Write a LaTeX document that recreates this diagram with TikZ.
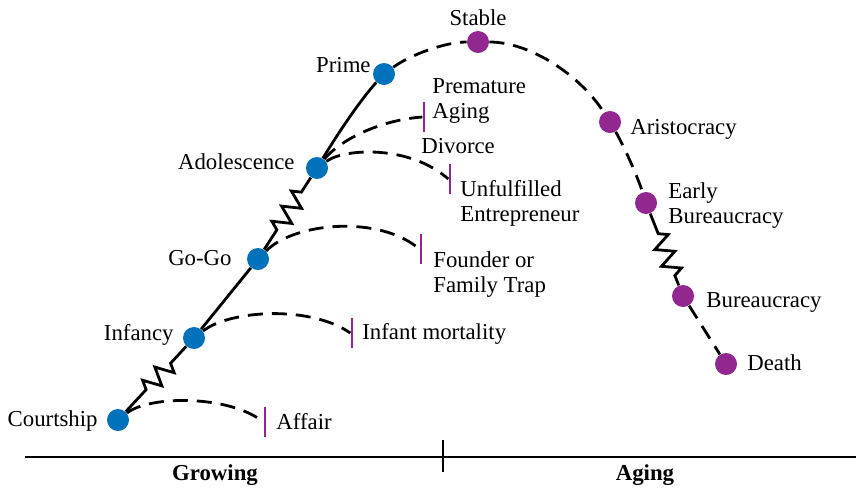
\documentclass[tikz,border=0pt]{standalone}
\usepackage{fontspec}
\setmainfont{Liberation Serif}
\usepackage{xcolor}
\usetikzlibrary{calc,decorations.pathmorphing}

\definecolor{growblue}{RGB}{0,114,188}
\definecolor{agepurple}{RGB}{146,39,143}

\tikzset{
  stage/.style={circle, inner sep=0pt, minimum size=11pt},
  growstage/.style={stage, fill=growblue},
  agestage/.style={stage, fill=agepurple},
  lab/.style={inner sep=0pt, font=\fontsize{11.4}{12.4}\selectfont, align=left},
  trapbar/.style={fill=agepurple, inner sep=0pt, minimum width=1.3pt, minimum height=15pt},
  lifeline/.style={line width=1.4pt},
  risk/.style={line width=1.4pt, dash pattern=on 7.5pt off 4.5pt},
  zz/.style={decoration={zigzag, segment length=9pt, amplitude=4.5pt}}
}

\begin{document}
\begin{tikzpicture}[x=0.5pt, y=-0.5pt]
\useasboundingbox (0,0) rectangle (856,488);

% stages
\node[growstage] (courtship) at (118,420) {};
\node[growstage] (infancy) at (194,338) {};
\node[growstage] (gogo) at (258,259) {};
\node[growstage] (adolescence) at (317,168) {};
\node[growstage] (prime) at (384,74) {};
\node[agestage] (stable) at (478,42) {};
\node[agestage] (aristocracy) at (610,122) {};
\node[agestage] (earlybur) at (646,203) {};
\node[agestage] (bureaucracy) at (683,296) {};
\node[agestage] (death) at (726,364) {};

\node[lab, anchor=base east] (courtship-t) at (98,426) {Courtship};
\node[lab, anchor=base east] (infancy-t) at (174,340) {Infancy};
\node[lab, anchor=base east] (gogo-t) at (232,265) {Go-Go};
\node[lab, anchor=base east] (adolescence-t) at (295,169) {Adolescence};
\node[lab, anchor=base east] (prime-t) at (371,72) {Prime};
\node[lab, anchor=base] (stable-t) at (478,25) {Stable};
\node[lab, anchor=base west] (aristocracy-t) at (630,134) {Aristocracy};
\node[lab, anchor=north west] (earlybur-t) at (668,182) {Early\\Bureaucracy};
\node[lab, anchor=base west] (bureaucracy-t) at (706,307) {Bureaucracy};
\node[lab, anchor=base west] (death-t) at (747,370) {Death};

% traps
\node[trapbar] (affairbar) at (265,422) {};
\node[trapbar] (infantbar) at (352,333) {};
\node[trapbar] (founderbar) at (421,249) {};
\node[trapbar] (unfulbar) at (450,179) {};
\node[trapbar] (prembar) at (424,117) {};

\node[lab, anchor=base west] (affair-t) at (276,429) {Affair};
\node[lab, anchor=base west] (infant-t) at (362,339) {Infant mortality};
\node[lab, anchor=north west] (founder-t) at (433,251) {Founder or\\Family Trap};
\node[lab, anchor=north west] (unful-t) at (460,180) {Unfulfilled\\Entrepreneur};
\node[lab, anchor=base west] (divorce-t) at (421,153) {Divorce};
\node[lab, anchor=north west] (prem-t) at (432,78) {Premature\\Aging};

% growing side
\draw[lifeline] (courtship) -- ($(courtship)!0.37!(infancy)$)
  decorate[zz]{-- ($(courtship)!0.71!(infancy)$)} -- (infancy);
\draw[lifeline] (infancy) -- (gogo);
\draw[lifeline] (gogo) -- ($(gogo)!0.32!(adolescence)$)
  decorate[zz]{-- ($(gogo)!0.74!(adolescence)$)} -- (adolescence);
\draw[lifeline] (adolescence) .. controls (340,130) and (362,98) .. (prime);

% aging side
\draw[risk] (prime) .. controls (410,55) and (445,42) .. (stable);
\draw[risk] (stable) .. controls (530,42) and (580,75) .. (aristocracy);
\draw[risk] (aristocracy) .. controls (625,148) and (638,178) .. (earlybur);
\draw[lifeline] (earlybur) -- ($(earlybur)!0.33!(bureaucracy)$)
  decorate[zz]{-- ($(earlybur)!0.8!(bureaucracy)$)} -- (bureaucracy);
\draw[risk] (bureaucracy) -- (death);

% trap arcs
\draw[risk] (courtship) .. controls (150,395) and (230,395) .. (affairbar.west);
\draw[risk] (infancy) .. controls (230,310) and (310,305) .. (infantbar.west);
\draw[risk] (gogo) .. controls (295,222) and (380,215) .. (founderbar.west);
\draw[risk] (adolescence) .. controls (345,148) and (410,145) .. (unfulbar.west);
\draw[risk] (adolescence) .. controls (340,140) and (380,120) .. (prembar.west);

% time axis
\coordinate (axisL) at (25,457);
\coordinate (axisR) at (856,457);
\coordinate (tickT) at (443,440);
\coordinate (tickB) at (443,472);
\draw[line width=1pt] (axisL) -- (axisR);
\draw[line width=1pt] (tickT) -- (tickB);
\node[lab, font=\fontsize{11.4}{12.4}\selectfont\bfseries, anchor=base] (growing-t) at (215,480) {Growing};
\node[lab, font=\fontsize{11.4}{12.4}\selectfont\bfseries, anchor=base] (aging-t) at (645,480) {Aging};
\end{tikzpicture}
\end{document}
